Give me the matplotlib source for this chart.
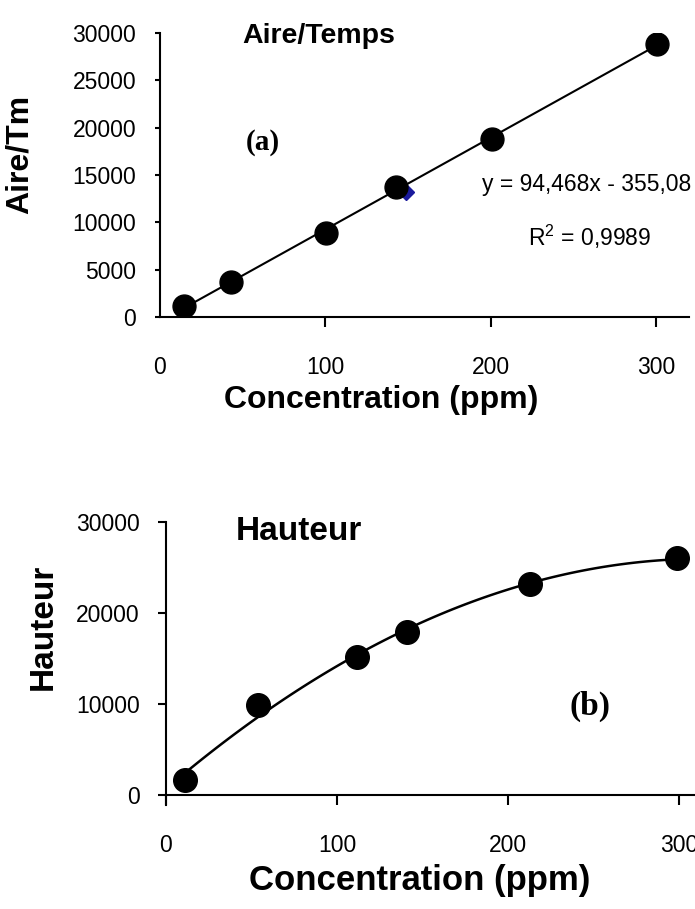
import numpy as np
import matplotlib.pyplot as plt

plt.rcParams['font.family'] = ['Liberation Sans', 'DejaVu Sans']

# (a) aire/temps
conc_a = [14.5, 43, 100.5, 143, 201, 300.5]
aire_a = [1170, 3720, 8830, 13690, 18830, 28830]
# second series point, mostly hidden behind the black dot
conc_a2 = [149]
aire_a2 = [13250]
eq_txt = 'y = 94,468x - 355,08'
r2_txt = '$\\mathregular{R^2}$ = 0,9989'

# (b) hauteur
conc_b = [11, 54, 112, 141, 213, 299]
haut_b = [1700, 9850, 15150, 17850, 23200, 25980]

fig = plt.figure(figsize=(6.95, 9.09), dpi=100)

ax1 = fig.add_axes([0.2302, 0.6513, 0.761, 0.3124])
ax2 = fig.add_axes([0.2388, 0.1254, 0.787, 0.3007])

for ax in (ax1, ax2):
    ax.spines['top'].set_visible(False)
    ax.spines['right'].set_visible(False)
    ax.spines['left'].set_linewidth(1.5)
    ax.spines['bottom'].set_linewidth(1.5)
    ax.set_xlim(0, 320)
    ax.set_ylim(0, 30000)
    ax.set_xticks([0, 100, 200, 300])
    ax.tick_params(axis='x', direction='out', length=7, width=1.5, pad=21, labelsize=16.5)
    ax.patch.set_alpha(0)

# --- top chart ---
p = np.polyfit(conc_a, aire_a, 1)
xx = np.linspace(min(conc_a), max(conc_a), 50)
ax1.plot(xx, np.polyval(p, xx), color='black', lw=1.5, zorder=2)
ax1.plot(conc_a2, aire_a2, 'D', color='#1a1a9c', ms=8, zorder=2.5)
ax1.plot(conc_a, aire_a, 'o', color='black', ms=16.5, zorder=3)
ax1.set_yticks(np.arange(0, 30001, 5000))
ax1.tick_params(axis='y', direction='out', length=3.6, width=1.5, pad=13.5, labelsize=16.5)
ax1.xaxis.get_major_ticks()[0].tick1line.set_visible(False)
ax1.set_xlabel('Concentration (ppm)', fontsize=23, fontweight='bold', va='center')
ax1.xaxis.set_label_coords(0.418, -0.294)
ax1.set_ylabel('Aire/Tm', fontsize=23, fontweight='bold', va='center')
ax1.yaxis.set_label_coords(-0.265, 0.574)
ax1.text(50, 29700, 'Aire/Temps', fontsize=20.5, fontweight='bold', ha='left', va='center')
ax1.text(62, 18400, '(a)', fontsize=21, fontweight='bold', family='Liberation Serif',
         ha='center', va='center')
ax1.text(258, 14040, eq_txt, fontsize=16.5, ha='center', va='center')
ax1.text(260, 8510, r2_txt, fontsize=16.5, ha='center', va='center')

# --- bottom chart ---
q = np.polyfit(conc_b, haut_b, 2)
xb = np.linspace(min(conc_b), max(conc_b), 80)
ax2.plot(xb, np.polyval(q, xb), color='black', lw=1.8, zorder=2)
ax2.plot(conc_b, haut_b, 'o', color='black', ms=17, zorder=3)
ax2.set_yticks([0, 10000, 20000, 30000])
ax2.tick_params(axis='y', direction='out', length=5.8, width=1.5, pad=13, labelsize=16.5)
ax2.spines['left'].set_bounds(-1150, 30000)
ax2.spines['left'].set_clip_on(False)
ax2.set_xlabel('Concentration (ppm)', fontsize=25, fontweight='bold', va='center')
ax2.xaxis.set_label_coords(0.464, -0.311)
ax2.set_ylabel('Hauteur', fontsize=24, fontweight='bold', va='center')
ax2.yaxis.set_label_coords(-0.225, 0.615)
ax2.text(41, 28870, 'Hauteur', fontsize=24, fontweight='bold', ha='left', va='center')
ax2.text(248, 9770, '(b)', fontsize=24, fontweight='bold', family='Liberation Serif',
         ha='center', va='center')

fig.savefig('out.png', dpi=100)
